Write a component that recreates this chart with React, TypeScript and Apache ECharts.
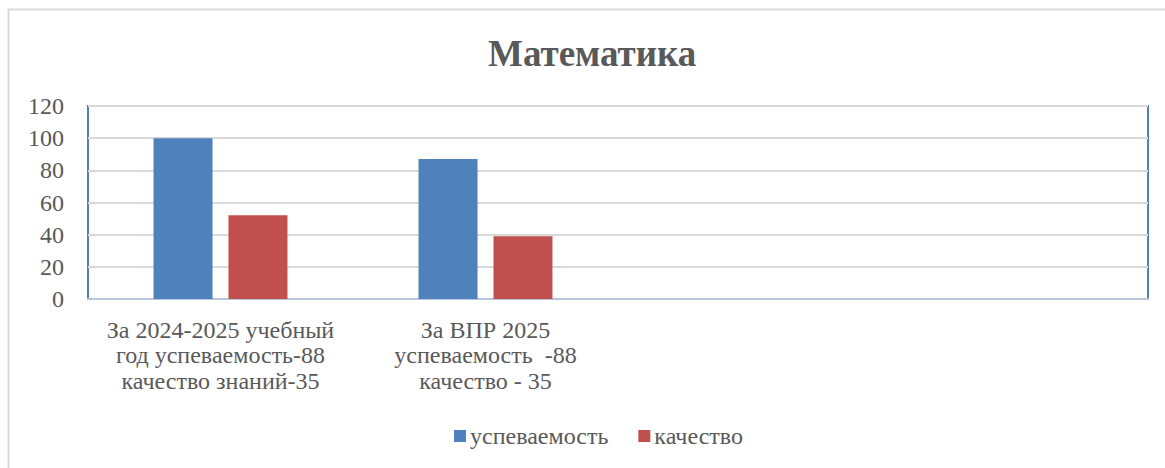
import React, { useEffect, useRef } from "react";
import * as echarts from "echarts";

const titleText = "Математика";
const categories = [
  "За 2024-2025 учебный\nгод успеваемость-88\nкачество знаний-35",
  "За ВПР 2025\nуспеваемость  -88\nкачество - 35",
  "",
  "",
];
const seriesNames = ["успеваемость", "качество"];
const uspevaemost = [100, 87, null, null];
const kachestvo = [52, 39, null, null];
const yTicks = { min: 0, max: 120, interval: 20 };

export default function App() {
  const ref = useRef<HTMLDivElement>(null);
  useEffect(() => {
    if (!ref.current) return;
    const chart = echarts.init(ref.current, null, { renderer: "svg" });
    const serif = "Liberation Serif";
    chart.setOption({
      animation: false,
      backgroundColor: "#ffffff",
      textStyle: { fontFamily: serif },
      graphic: [
        {
          type: "rect",
          shape: { x: 8.5, y: 9.5, width: 1300, height: 600 },
          style: { fill: "none", stroke: "#D9D9D9", lineWidth: 2 },
          silent: true,
        },
      ],
      title: {
        text: titleText,
        left: 483,
        top: 30,
        textStyle: {
          fontFamily: serif,
          fontSize: 37,
          fontWeight: "bold",
          color: "#595959",
        },
      },
      legend: {
        data: seriesNames,
        top: 424,
        left: 454,
        padding: 0,
        icon: "rect",
        itemWidth: 12,
        itemHeight: 12,
        itemGap: 30,
        textStyle: { fontFamily: serif, fontSize: 24, color: "#595959", padding: [0, 0, 0, -1] },
      },
      grid: {
        left: 88,
        right: 17,
        top: 106,
        bottom: 169,
        show: true,
        borderColor: "#4F81BD",
        borderWidth: 2,
        containLabel: false,
      },
      xAxis: {
        type: "category",
        data: categories,
        axisTick: { show: false },
        axisLine: { lineStyle: { color: "#B9C7DC", width: 2 } },
        axisLabel: {
          interval: 0,
          margin: 18,
          fontFamily: serif,
          fontSize: 24,
          lineHeight: 25.5,
          color: "#595959",
        },
      },
      yAxis: {
        type: "value",
        min: yTicks.min,
        max: yTicks.max,
        interval: yTicks.interval,
        axisLine: { show: false },
        axisTick: { show: false },
        splitLine: { lineStyle: { color: "#D9D9D9", width: 2 } },
        axisLabel: {
          margin: 24,
          fontFamily: serif,
          fontSize: 24,
          color: "#595959",
        },
      },
      series: [
        {
          name: seriesNames[0],
          type: "bar",
          data: uspevaemost,
          barWidth: 59,
          barGap: "27%",
          itemStyle: { color: "#4F81BD" },
        },
        {
          name: seriesNames[1],
          type: "bar",
          data: kachestvo,
          barWidth: 59,
          barGap: "27%",
          itemStyle: { color: "#C0504D" },
        },
      ],
    });
    return () => chart.dispose();
  }, []);
  return (
    <div
      ref={ref}
      style={{ position: "fixed", left: 0, top: 0, width: 1165, height: 468 }}
    />
  );
}
